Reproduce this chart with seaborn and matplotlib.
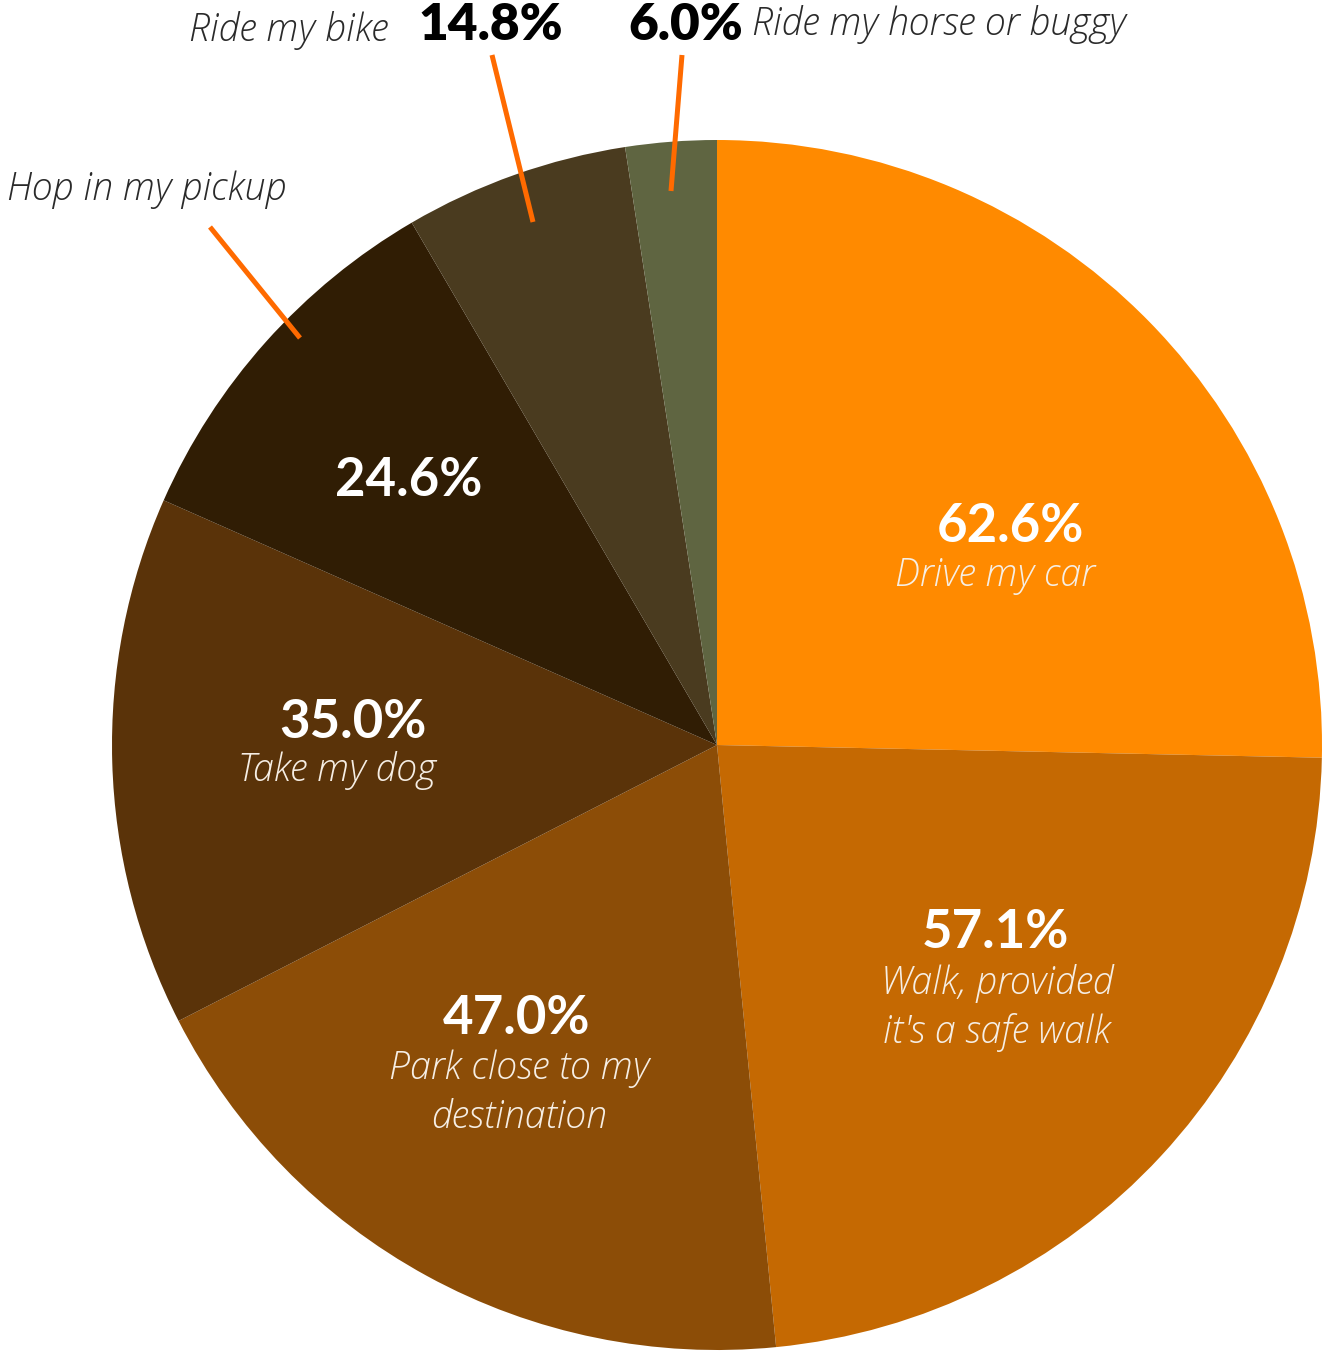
import matplotlib
matplotlib.use("Agg")
import matplotlib.pyplot as plt
import seaborn as sns

# ---- data ----
categories = ["Drive my car", "Walk, provided\nit's a safe walk", "Park close to my\ndestination",
              "Take my dog", "Hop in my pickup", "Ride my bike", "Ride my horse or buggy"]
values = [62.6, 57.1, 47.0, 35.0, 24.6, 14.8, 6.0]
pct_labels = ["62.6%", "57.1%", "47.0%", "35.0%", "24.6%", "14.8%", "6.0%"]
colors = ["#FF8A00", "#C56902", "#8C4D07", "#5A3309", "#301D04", "#4A3B1F", "#5F6541"]

sns.set_theme(style="white")
plt.rcParams['font.family'] = ['Lato', 'DejaVu Sans']

W, H = 1323, 1352
fig = plt.figure(figsize=(W / 100, H / 100), dpi=100)
ax = fig.add_axes([0, 0, 1, 1])
ax.set_xlim(0, W)
ax.set_ylim(0, H)
ax.set_aspect('equal')
ax.axis('off')

def Y(py):
    return H - py

ax.pie(values, colors=colors, startangle=90, counterclock=False,
       center=(717, Y(745)), radius=605, frame=True,
       wedgeprops=dict(linewidth=0))
ax.set_xlim(0, W)
ax.set_ylim(0, H)
ax.axis('off')

LABEL_FONT = ['Open Sans', 'DejaVu Sans']
pct_kw = dict(color="white", fontsize=38, fontweight="bold", ha="center", va="center")
lab_kw = dict(color="#F6EEE4", fontsize=27, fontweight=300, style="italic", ha="center",
              va="center", family=LABEL_FONT)

# inside labels
ax.text(1010, Y(527), pct_labels[0], **pct_kw)
ax.text(995, Y(576), categories[0], **lab_kw)
ax.text(995, Y(933), pct_labels[1], **pct_kw)
ax.text(997, Y(1008), categories[1], linespacing=1.35, **lab_kw)
ax.text(517, Y(1018), pct_labels[2], **pct_kw)
ax.text(519, Y(1093), categories[2], linespacing=1.35, **lab_kw)
ax.text(353, Y(723), pct_labels[3], **pct_kw)
ax.text(337, Y(771), categories[3], **lab_kw)
ax.text(409, Y(481), pct_labels[4], **pct_kw)

# outside labels
out_kw = dict(color="#2A2A2A", fontsize=27, fontweight=300, style="italic", va="center",
              family=LABEL_FONT)
blk_kw = dict(color="black", fontsize=37, fontweight="heavy", va="center")
ax.text(7, Y(190), categories[4], ha="left", **out_kw)
ax.text(388, Y(30), categories[5], ha="right", **out_kw)
ax.text(418, Y(25), pct_labels[5], ha="left", **blk_kw)
ax.text(743, Y(25), pct_labels[6], ha="right", **blk_kw)
ax.text(752, Y(25), categories[6], ha="left", **out_kw)

line_kw = dict(color="#FF6A00", linewidth=3.6, solid_capstyle="butt")
ax.plot([210, 300], [Y(227), Y(338)], **line_kw)
ax.plot([492, 533], [Y(55), Y(222)], **line_kw)
ax.plot([682, 671], [Y(55), Y(191)], **line_kw)

fig.savefig("out.png", dpi=100, facecolor="white")
